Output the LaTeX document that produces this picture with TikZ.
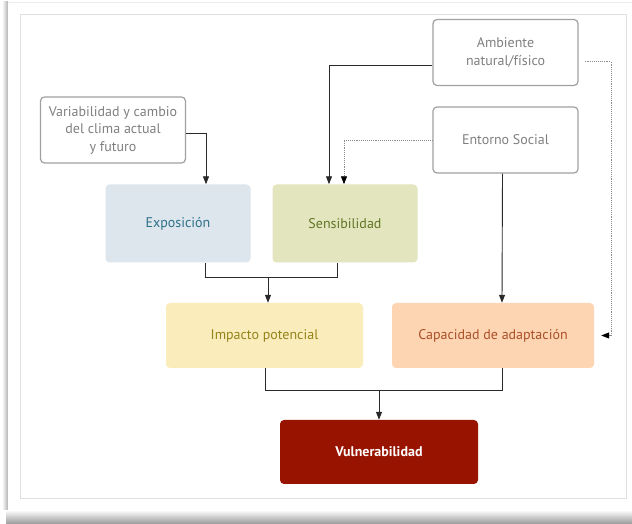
\documentclass[tikz,border=0pt]{standalone}
\usepackage{fontspec}
\setmainfont{PT Sans}
\usetikzlibrary{arrows.meta,positioning}
\definecolor{srcbd}{HTML}{A0A0A0}
\definecolor{srctx}{HTML}{808080}
\definecolor{expfill}{HTML}{DCE6EC}
\definecolor{exptx}{HTML}{2E6F88}
\definecolor{senfill}{HTML}{E2E5BE}
\definecolor{sentx}{HTML}{627525}
\definecolor{impfill}{HTML}{FAEDBB}
\definecolor{imptx}{HTML}{94821A}
\definecolor{capfill}{HTML}{FDD5B2}
\definecolor{captx}{HTML}{AA5028}
\definecolor{vulfill}{HTML}{981400}
\definecolor{linec}{HTML}{2A2A2A}
\definecolor{dotc}{HTML}{8C8C8C}
\tikzset{
  srcbox/.style={draw=srcbd, line width=1.2pt, rounded corners=4pt, fill=white,
    text=srctx, align=center, font=\fontsize{14}{17.5}\selectfont, inner sep=0pt},
  catbox/.style={rounded corners=4pt, align=center, font=\fontsize{14}{16}\selectfont, inner sep=0pt},
  tip/.style={-{Triangle[length=8pt,width=6pt]}},
  conn/.style={draw=linec, line width=0.9pt, tip},
  connplain/.style={draw=linec, line width=0.9pt},
  dotconn/.style={draw=dotc, line width=0.9pt, densely dotted, tip, arrows={-{Triangle[length=8pt,width=6pt,fill=black,color=black]}}},
}
\begin{document}
\begin{tikzpicture}[x=1pt,y=1pt]
\useasboundingbox (0,0) rectangle (632,524);
% card and shadows
\fill[white] (0,0) rectangle (632,524);
\shade[top color=white, bottom color=gray!80] (6,0) rectangle (632,14);
\shade[left color=white, right color=gray!60] (2,14) rectangle (8,522);
\fill[white] (8,14) rectangle (632,522);
\draw[gray!15, line width=0.6pt] (8,522) -- (632,522);
\draw[gray!25, line width=0.8pt] (20,26) rectangle (626,510);
% source boxes
\node[srcbox, minimum width=145pt, minimum height=66pt] (amb) at (505.5,471.5) {Ambiente\\natural/físico};
\node[srcbox, minimum width=145pt, minimum height=66pt] (ent) at (505.5,384) {Entorno Social};
\node[srcbox, minimum width=145pt, minimum height=66pt] (var) at (113,394) {Variabilidad y cambio\\del clima actual\\y futuro};
% category boxes
\node[catbox, fill=expfill, text=exptx, minimum width=145pt, minimum height=78pt] (exp) at (178,300.5) {Exposición};
\node[catbox, fill=senfill, text=sentx, minimum width=145pt, minimum height=78pt] (sen) at (345,300.5) {Sensibilidad};
\node[catbox, fill=impfill, text=imptx, minimum width=197pt, minimum height=65pt] (imp) at (264.5,188.5) {Impacto potencial};
\node[catbox, fill=capfill, text=captx, minimum width=202pt, minimum height=65pt] (cap) at (493,188.5) {Capacidad de adaptación};
\node[catbox, fill=vulfill, text=white, font=\fontsize{14}{16}\selectfont\bfseries, minimum width=198pt, minimum height=64pt] (vul) at (379,72) {Vulnerabilidad};
% connectors
\coordinate (ambL) at ([yshift=-13pt]amb.west);
\coordinate (ambR) at ([yshift=-9pt]amb.east);
\coordinate (xr) at (611,0);
\draw[conn] (ambL) -| ([xshift=-16pt]sen.north);
\draw[dotconn] (ent.west) -| ([xshift=-1pt]sen.north);
\draw[conn] ([yshift=-3pt]var.east) -| ([xshift=28pt]exp.north);
\draw[dotconn] ([xshift=6pt]ambR) -- (ambR -| xr) -- (cap.east -| xr) -- ([xshift=7pt]cap.east);
\draw[conn] ([xshift=-3pt]ent.south) -- ([xshift=9pt]cap.north);
\coordinate (j1) at (268,247);
\draw[connplain] ([xshift=27pt]exp.south) |- (j1);
\draw[connplain] ([xshift=-8pt]sen.south) |- (j1);
\draw[conn] (j1) -- ([xshift=3.5pt]imp.north);
\coordinate (j2) at (379,134);
\draw[connplain] ([xshift=0.5pt]imp.south) |- (j2);
\draw[connplain] ([xshift=9pt]cap.south) |- (j2);
\draw[conn] (j2) -- (vul.north);
\end{tikzpicture}
\end{document}
